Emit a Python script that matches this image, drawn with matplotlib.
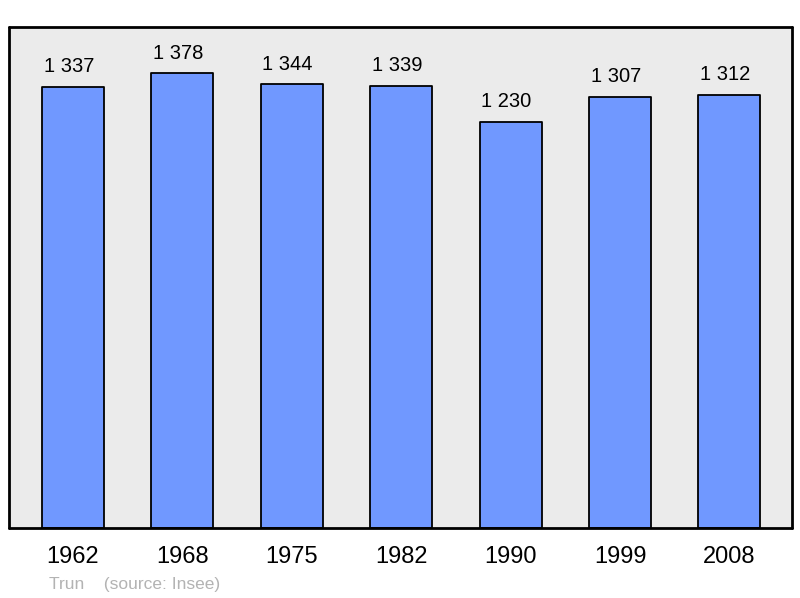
import matplotlib
matplotlib.use("Agg")
import matplotlib.pyplot as plt

years = ["1962", "1968", "1975", "1982", "1990", "1999", "2008"]
population = [1337, 1378, 1344, 1339, 1230, 1307, 1312]
labels = ["1 337", "1 378", "1 344", "1 339", "1 230", "1 307", "1 312"]

plt.rcParams['font.family'] = ['Liberation Sans', 'DejaVu Sans']

fig = plt.figure(figsize=(8, 5.98), dpi=100)
ax = fig.add_axes([9/800, 70/598, 783/800, 501/598])
ax.set_facecolor('#ebebeb')

x = list(range(len(years)))
bars = ax.bar(x, population, width=0.567, color='#7098ff', edgecolor='black',
              linewidth=1.3, zorder=2)
for b in bars:
    b.set_joinstyle('round')

for xi, v, lab in zip(x, population, labels):
    ax.annotate(lab, (xi, v), xytext=(-3, 10.5), textcoords='offset points',
                ha='center', va='baseline', fontsize=14.5, color='black')

ax.set_xlim(-0.585, 6.572)
ax.set_ylim(0, 1518)
ax.set_yticks([])
ax.set_xticks(x)
ax.set_xticklabels(years, fontsize=17)
ax.tick_params(axis='x', length=0, pad=13)
for s in ax.spines.values():
    s.set_linewidth(2)
    s.set_capstyle('round')
    s.set_joinstyle('round')

fig.text(49/800, 1 - 584/598, "Trun    (source: Insee)", fontsize=12.5,
         color='#b3b3b3', ha='left', va='center')

fig.savefig("out.png", dpi=100)
